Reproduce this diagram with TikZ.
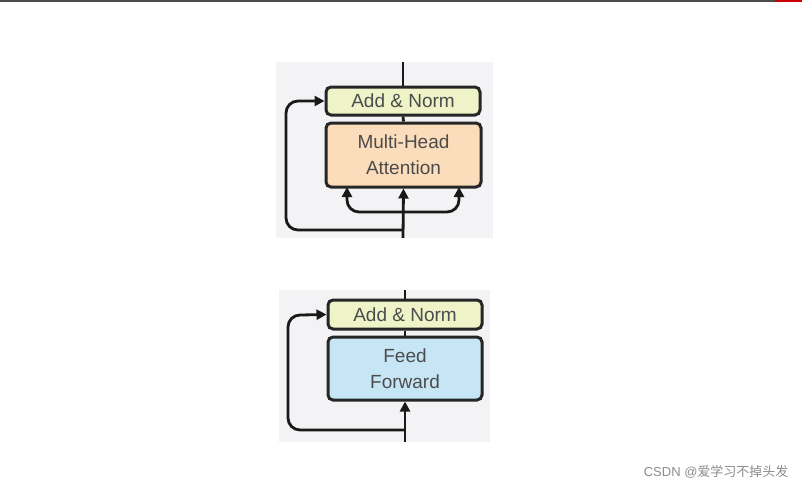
\documentclass[tikz,border=0pt]{standalone}
\usepackage{fontspec}
\setmainfont{Liberation Sans}
\newfontfamily\cjk{Noto Sans CJK SC}
\usetikzlibrary{arrows.meta}
\definecolor{panel}{HTML}{F3F3F5}
\definecolor{normc}{HTML}{EEF4C8}
\definecolor{attc}{HTML}{FBDDBB}
\definecolor{ffc}{HTML}{C6E6F6}
\begin{document}
\begin{tikzpicture}[x=1pt,y=-1pt,
  box/.style={draw=black!85,line width=3pt,rounded corners=5pt,inner sep=0pt,text=black!70,font=\fontsize{19}{26}\selectfont,align=center},
  ln/.style={line width=2.8pt,black!90},
  arr/.style={ln,-{Triangle[length=10pt,width=10pt]}}]
\useasboundingbox (0,0) rectangle (802,488);
\fill[black!70] (0,0) rectangle (775,2);
\fill[red!80!black] (775,0) rectangle (802,2);
% top panel
\fill[panel] (276,62) rectangle (493,238);
\node[box,fill=normc,minimum width=154pt,minimum height=28pt] (an1) at (403,101) {Add \& Norm};
\node[box,fill=attc,minimum width=155pt,minimum height=64pt] (mha) at (403.5,155) {Multi-Head\\Attention};
\coordinate (t1) at (403,62); \coordinate (b1) at (403,238);
\draw[ln] (t1) -- (an1.north);
\draw[ln] (an1.south) -- (mha.north);
\draw[arr] (b1) -- (mha.south);
\draw[arr] (403,230) -- (298,230) to[out=180,in=270] (286,218) -- (286,113) to[out=90,in=180] (298,101) -- (an1.west);
\draw[arr] (403,212) -- (359,212) to[out=180,in=270] (347,200) -- (347,187);
\draw[arr] (403,212) -- (447,212) to[out=0,in=270] (459,200) -- (459,187);
% bottom panel
\fill[panel] (279,290) rectangle (490,442);
\node[box,fill=normc,minimum width=154pt,minimum height=29pt] (an2) at (405,314.5) {Add \& Norm};
\node[box,fill=ffc,minimum width=154pt,minimum height=63pt] (ff) at (405,368.5) {Feed\\Forward};
\coordinate (t2) at (405,290); \coordinate (b2) at (405,442);
\draw[ln] (t2) -- (an2.north);
\draw[ln] (an2.south) -- (ff.north);
\draw[arr] (b2) -- (ff.south);
\draw[arr] (405,430) -- (300,430) to[out=180,in=270] (288,418) -- (288,327) to[out=90,in=180] (300,315) -- (an2.west);
\node[text=black!45,font=\fontsize{13}{15}\selectfont,anchor=east] (wm) at (792,472) {CSDN @{\cjk 爱学习不掉头发}};
\end{tikzpicture}
\end{document}
